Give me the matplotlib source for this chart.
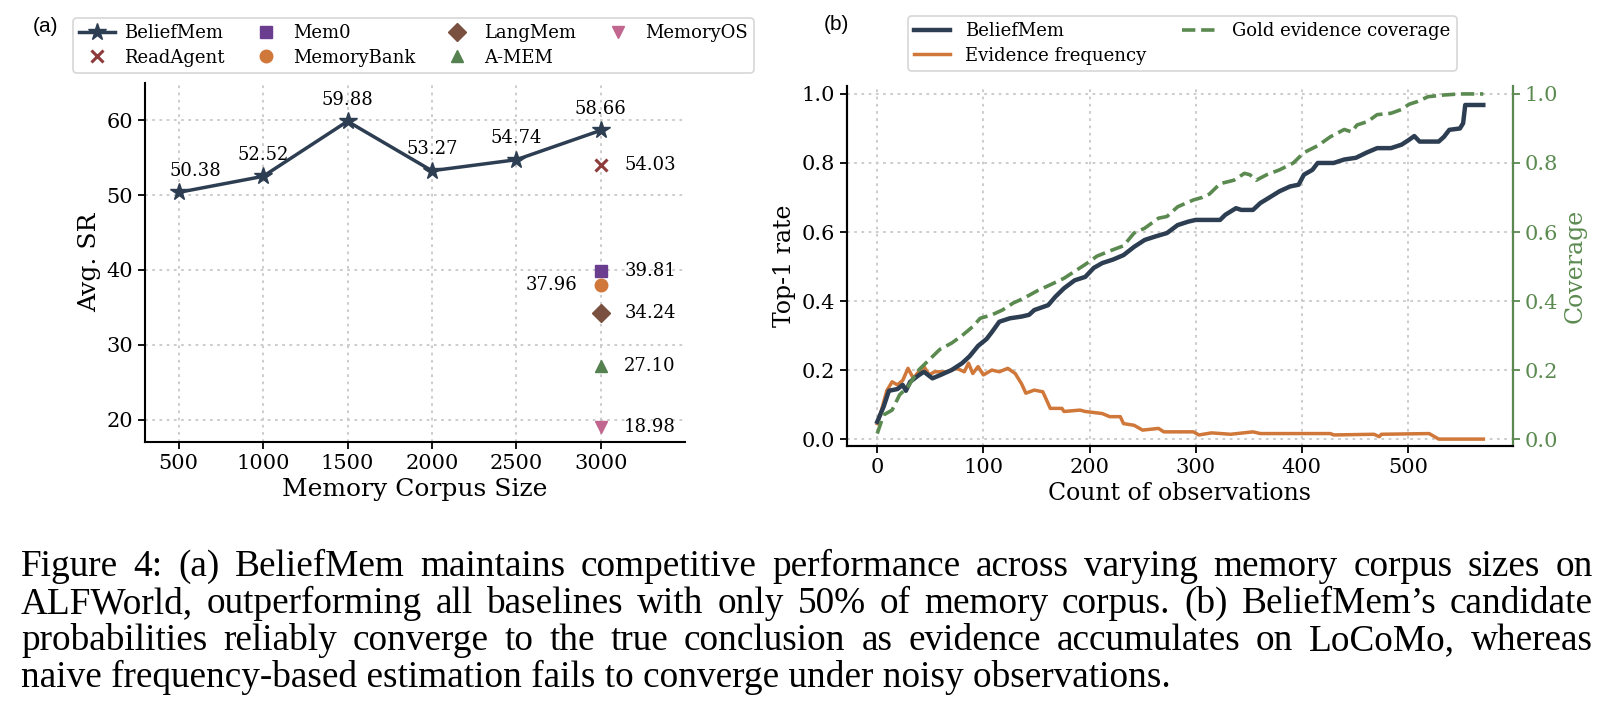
import matplotlib
matplotlib.use("Agg")
import matplotlib.pyplot as plt

# ---------------- data: panel (a) ----------------
corpus_sizes = [500, 1000, 1500, 2000, 2500, 3000]
beliefmem_sr = [50.38, 52.52, 59.88, 53.27, 54.74, 58.66]
baseline_names = ["ReadAgent", "Mem0", "MemoryBank", "LangMem", "A-MEM", "MemoryOS"]
baseline_sr = [54.03, 39.81, 37.96, 34.24, 27.10, 18.98]
baseline_size = 3000
x_ticks_a = [500, 1000, 1500, 2000, 2500, 3000]
y_ticks_a = [20, 30, 40, 50, 60]

# ---------------- data: panel (b) ----------------
bm_obs = [0, 6, 11, 19, 24, 27, 31, 39, 44, 52, 59, 70, 80, 87, 95, 103, 108, 115, 125, 136,
          143, 148, 161, 168, 176, 186, 196, 204, 212, 222, 232, 242, 252, 262, 273, 283, 293, 300, 323, 328,
          338, 343, 354, 361, 369, 379, 389, 397, 402, 410, 415, 430, 440, 451, 461, 471, 484, 494, 501, 506,
          511, 529, 534, 539, 549, 552, 554, 571]
bm_top1 = [0.05, 0.094, 0.14, 0.145, 0.157, 0.14, 0.166, 0.185, 0.195, 0.176, 0.185, 0.2, 0.22, 0.24, 0.27, 0.29, 0.31, 0.34, 0.35, 0.355,
           0.36, 0.374, 0.388, 0.413, 0.437, 0.46, 0.47, 0.496, 0.51, 0.52, 0.533, 0.557, 0.577, 0.587, 0.597, 0.62, 0.63, 0.635, 0.635, 0.65,
           0.669, 0.664, 0.664, 0.684, 0.699, 0.718, 0.732, 0.737, 0.766, 0.78, 0.80, 0.80, 0.81, 0.815, 0.83, 0.843, 0.843, 0.853, 0.867, 0.878,
           0.862, 0.862, 0.876, 0.896, 0.90, 0.915, 0.968, 0.968]
ev_obs = [0, 4, 9, 14, 19, 24, 29, 34, 39, 44, 49, 54, 65, 75, 82, 86, 90, 95, 100, 108,
          115, 123, 130, 136, 140, 148, 156, 161, 163, 174, 176, 191, 196, 212, 219, 229, 232, 242, 250, 265,
          270, 298, 303, 315, 333, 354, 361, 427, 430, 468, 473, 475, 520, 529, 571]
ev_top1 = [0.045, 0.084, 0.14, 0.166, 0.157, 0.17, 0.205, 0.176, 0.195, 0.21, 0.186, 0.195, 0.195, 0.205, 0.195, 0.22, 0.19, 0.21, 0.186, 0.2,
           0.195, 0.205, 0.19, 0.16, 0.133, 0.142, 0.137, 0.103, 0.089, 0.089, 0.08, 0.084, 0.08, 0.074, 0.065, 0.065, 0.045, 0.04, 0.026, 0.031,
           0.021, 0.021, 0.012, 0.018, 0.014, 0.021, 0.016, 0.016, 0.012, 0.014, 0.007, 0.014, 0.016, 0.0, 0.0]
cov_obs = [0, 6, 14, 21, 29, 39, 49, 59, 70, 80, 90, 97, 108, 118, 128, 138, 151, 163, 176, 186,
           196, 207, 219, 232, 242, 252, 265, 273, 283, 298, 306, 313, 323, 336, 346, 351, 357, 367, 379, 392,
           402, 415, 427, 440, 447, 452, 462, 471, 484, 494, 501, 509, 519, 534, 549, 571]
cov_val = [0.016, 0.07, 0.084, 0.128, 0.152, 0.2, 0.23, 0.26, 0.278, 0.30, 0.326, 0.35, 0.36, 0.374, 0.394, 0.408, 0.43, 0.447, 0.466, 0.486,
           0.506, 0.53, 0.545, 0.56, 0.597, 0.611, 0.64, 0.645, 0.673, 0.693, 0.70, 0.71, 0.74, 0.75, 0.77, 0.766, 0.75, 0.766, 0.78, 0.80,
           0.83, 0.85, 0.876, 0.897, 0.89, 0.91, 0.92, 0.94, 0.944, 0.955, 0.97, 0.978, 0.992, 0.997, 1.0, 1.0]
x_ticks_b = [0, 100, 200, 300, 400, 500]
y_ticks_b = [0.0, 0.2, 0.4, 0.6, 0.8, 1.0]

caption_lines = [
    "Figure 4: (a) BeliefMem maintains competitive performance across varying memory corpus sizes on",
    "ALFWorld, outperforming all baselines with only 50% of memory corpus. (b) BeliefMem\u2019s candidate",
    "probabilities reliably converge to the true conclusion as evidence accumulates on LoCoMo, whereas",
    "naive frequency-based estimation fails to converge under noisy observations.",
]

# ---------------- styles ----------------
NAVY = "#2d3e52"
ORANGE = "#d0773a"
GREEN = "#5b8a50"
base_markers = ["x", "s", "o", "D", "^", "v"]
base_colors = ["#8e3b3b", "#6a3d8f", "#d0773a", "#7a5040", "#55804f", "#c0668f"]
base_ms = [9, 9, 9, 9, 9, 9]
base_label_side = ["r", "r", "l", "r", "r", "r"]

plt.rcParams["font.family"] = ["DejaVu Serif"]
plt.rcParams["axes.linewidth"] = 1.5

fig = plt.figure(figsize=(16.14, 7.18), dpi=100)
W, H = 1614, 718


def axpos(x0, y0, x1, y1):
    return [x0 / W, 1 - y1 / H, (x1 - x0) / W, (y1 - y0) / H]


grid_kw = dict(color="#c8c8c8", linestyle=(0, (1.5, 2.5)), linewidth=1.3)

# ---------------- panel (a) ----------------
ax = fig.add_axes(axpos(145, 83, 685, 442))
ax.plot(corpus_sizes, beliefmem_sr, color=NAVY, lw=2.5, marker="*", ms=13, label="BeliefMem", zorder=4)
label_dx = [12, 0, 0, 0, 0, 0]
for x, y, dx in zip(corpus_sizes, beliefmem_sr, label_dx):
    ax.annotate(f"{y:.2f}", (x, y), xytext=(dx, 9), textcoords="offset points",
                ha="center", va="bottom", fontsize=13)
for name, v, m, c, ms, side in zip(baseline_names, baseline_sr, base_markers, base_colors, base_ms, base_label_side):
    mew = 2.2 if m == "x" else 1.0
    ax.plot([baseline_size], [v], linestyle="none", marker=m, color=c, ms=ms, mew=mew, label=name, zorder=4)
    if side == "r":
        ax.annotate(f"{v:.2f}", (baseline_size, v), xytext=(17, 0), textcoords="offset points",
                    ha="left", va="center", fontsize=13)
    else:
        ax.annotate(f"{v:.2f}", (baseline_size, v), xytext=(-17, 0), textcoords="offset points",
                    ha="right", va="center", fontsize=13)
ax.set_xlim(300, 3500)
ax.set_ylim(17, 65)
ax.set_xticks(x_ticks_a)
ax.set_yticks(y_ticks_a)
ax.grid(True, **grid_kw)
ax.set_axisbelow(True)
ax.spines["top"].set_visible(False)
ax.spines["right"].set_visible(False)
ax.tick_params(labelsize=15, length=5, width=1.3)
ax.set_xlabel("Memory Corpus Size", fontsize=18)
ax.set_ylabel("Avg. SR", fontsize=18)

h, l = ax.get_legend_handles_labels()
leg_a = fig.legend(h, l, loc="lower left", bbox_to_anchor=(73 / W, 1 - 73 / H, (754 - 73) / W, (73 - 12) / H),
                   mode="expand", ncol=4, fontsize=13, frameon=True, borderaxespad=0.0,
                   handlelength=2.0, handletextpad=0.5, labelspacing=0.35, borderpad=0.35)
leg_a.get_frame().set_edgecolor("#cccccc")
leg_a.get_frame().set_linewidth(1.2)

fig.text(46 / W, 1 - 26 / H, "(a)", family=["Liberation Sans"], fontsize=15, ha="center", va="center")

# ---------------- panel (b) ----------------
bx = fig.add_axes(axpos(847, 86, 1513, 446))
l1, = bx.plot(bm_obs, bm_top1, color=NAVY, lw=3.2, label="BeliefMem", zorder=3)
l2, = bx.plot(ev_obs, ev_top1, color=ORANGE, lw=2.5, label="Evidence frequency", zorder=2)
bx.set_xlim(-28.5, 599)
bx.set_ylim(-0.02, 1.023)
bx.set_xticks(x_ticks_b)
bx.set_yticks(y_ticks_b)
bx.set_yticklabels([f"{v:.1f}" for v in y_ticks_b])
bx.grid(True, **grid_kw)
bx.set_axisbelow(True)
bx.spines["top"].set_visible(False)
bx.tick_params(labelsize=15, length=5, width=1.3)
bx.set_xlabel("Count of observations", fontsize=17)
bx.set_ylabel("Top-1 rate", fontsize=17)

bx2 = bx.twinx()
l3, = bx2.plot(cov_obs, cov_val, color=GREEN, lw=2.6, linestyle="--", label="Gold evidence coverage", zorder=3)
bx2.set_ylim(-0.02, 1.023)
bx2.set_yticks(y_ticks_b)
bx2.set_yticklabels([f"{v:.1f}" for v in y_ticks_b])
bx2.tick_params(labelsize=15, length=5, width=1.3, colors=GREEN)
bx2.spines["top"].set_visible(False)
bx2.spines["right"].set_color(GREEN)
bx2.set_ylabel("Coverage", fontsize=17, color=GREEN)

leg_b = fig.legend([l1, l2, l3], ["BeliefMem", "Evidence frequency", "Gold evidence coverage"],
                   loc="lower left", bbox_to_anchor=(908 / W, 1 - 71 / H, (1457 - 908) / W, (71 - 12) / H),
                   mode="expand", ncol=2, fontsize=13, frameon=True, borderaxespad=0.0,
                   handlelength=2.0, handletextpad=0.8, labelspacing=0.35, borderpad=0.35)
leg_b.get_frame().set_edgecolor("#cccccc")
leg_b.get_frame().set_linewidth(1.2)

fig.text(836 / W, 1 - 25 / H, "(b)", family=["Liberation Sans"], fontsize=15, ha="center", va="center")

# ---------------- caption (justified) ----------------
renderer = fig.canvas.get_renderer()
cap_family = ["Liberation Serif"]
probe = fig.text(0, 0, caption_lines[-1], family=cap_family, fontsize=20)
w_probe = probe.get_window_extent(renderer).width
probe.remove()
cap_left, cap_right = 21, 1593
cap_size = 20 * 1150.0 / w_probe
baselines = [576, 613, 650, 687]
for i, (line, yb) in enumerate(zip(caption_lines, baselines)):
    yf = 1 - yb / H
    if i == len(caption_lines) - 1:
        fig.text(cap_left / W, yf, line, family=cap_family, fontsize=cap_size, ha="left", va="baseline")
        continue
    words = line.split(" ")
    widths = []
    for wd in words:
        t = fig.text(0, 0, wd, family=cap_family, fontsize=cap_size)
        widths.append(t.get_window_extent(renderer).width)
        t.remove()
    gap = (cap_right - cap_left - sum(widths)) / (len(words) - 1)
    x = cap_left
    for wd, ww in zip(words, widths):
        fig.text(x / W, yf, wd, family=cap_family, fontsize=cap_size, ha="left", va="baseline")
        x += ww + gap

fig.savefig("out.png", dpi=100)
